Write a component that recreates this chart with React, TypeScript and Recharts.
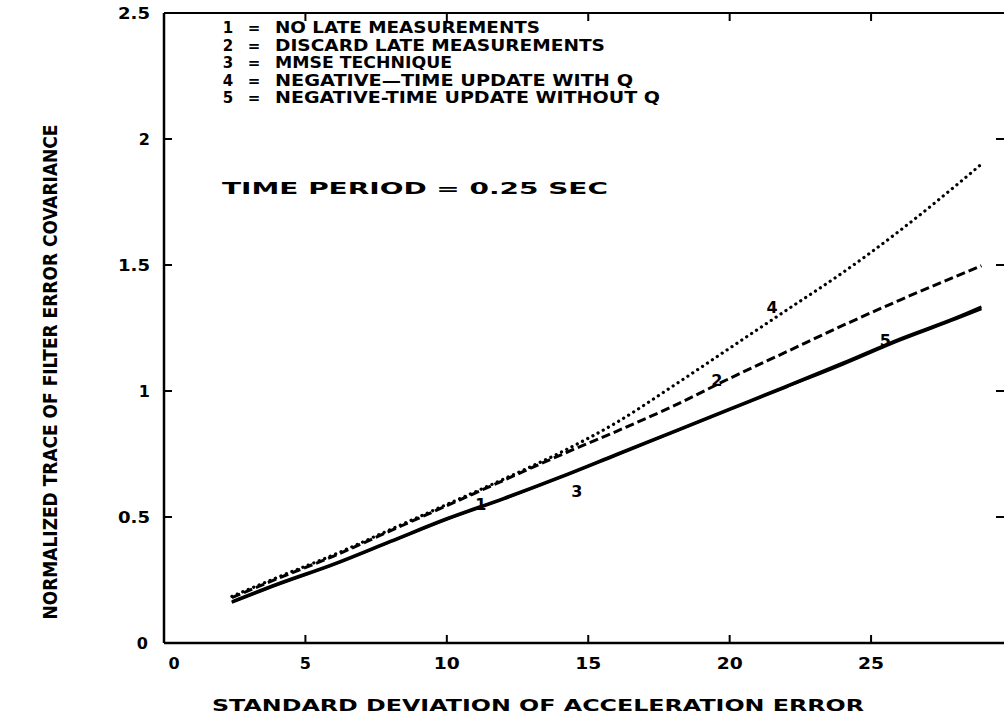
import React from 'react';
import { LineChart, Line, XAxis, YAxis, ReferenceDot } from 'recharts';

// ---- data ----
const sigmaAccel = [2.4, 4, 6, 8, 10, 12, 14, 16, 18, 20, 22, 24, 26, 28, 28.9];
const noLateMeasurements = [0.16, 0.23, 0.31, 0.4, 0.49, 0.57, 0.655, 0.745, 0.835, 0.925, 1.015, 1.105, 1.2, 1.285, 1.325];
const discardLate = [0.18, 0.255, 0.345, 0.445, 0.545, 0.645, 0.745, 0.84, 0.94, 1.05, 1.155, 1.26, 1.36, 1.455, 1.497];
const mmseTechnique = [0.162, 0.232, 0.312, 0.402, 0.492, 0.572, 0.657, 0.747, 0.837, 0.927, 1.017, 1.108, 1.203, 1.288, 1.328];
const negTimeWithQ = [0.185, 0.26, 0.35, 0.45, 0.55, 0.65, 0.755, 0.875, 1.02, 1.17, 1.32, 1.47, 1.635, 1.815, 1.9];
const negTimeWithoutQ = [0.165, 0.235, 0.315, 0.405, 0.495, 0.575, 0.66, 0.75, 0.84, 0.93, 1.02, 1.112, 1.207, 1.292, 1.335];

const xTicks = [0, 5, 10, 15, 20, 25];
const yTicks = [0, 0.5, 1, 1.5, 2, 2.5];
const xDomain: [number, number] = [0, 29.7];
const yDomain: [number, number] = [0, 2.5];

const legendNumbers = ['1', '2', '3', '4', '5'];
const legendLabels = [
  'NO LATE MEASUREMENTS',
  'DISCARD LATE MEASUREMENTS',
  'MMSE TECHNIQUE',
  'NEGATIVE\u2014TIME UPDATE WITH Q',
  'NEGATIVE-TIME UPDATE WITHOUT Q',
];
const legendLengths = [265, 330, 177, 358, 385];
const periodNote = 'TIME PERIOD = 0.25 SEC';
const xTitle = 'STANDARD DEVIATION OF ACCELERATION ERROR';
const yTitle = 'NORMALIZED TRACE OF FILTER ERROR COVARIANCE';

const curveTags = [
  { id: '1', x: 11.2, y: 0.55 },
  { id: '3', x: 14.6, y: 0.6 },
  { id: '2', x: 19.55, y: 1.04 },
  { id: '4', x: 21.5, y: 1.33 },
  { id: '5', x: 25.5, y: 1.2 },
];

const data = sigmaAccel.map((x, i) => ({
  x,
  s1: noLateMeasurements[i],
  s2: discardLate[i],
  s3: mmseTechnique[i],
  s4: negTimeWithQ[i],
  s5: negTimeWithoutQ[i],
}));

const FONT = '"DejaVu Sans", Verdana, sans-serif';

const LeftTick = (props: any) => {
  const { x, y, payload } = props;
  const isZero = payload.value === 0;
  return (
    <g>
      {!isZero && payload.value !== 2.5 && (
        <line x1={x + 14} x2={x + 22} y1={y} y2={y} stroke="#000" strokeWidth={2} />
      )}
      <text x={isZero ? x - 2 : x} y={y} textAnchor="end" dominantBaseline="central"
        fontFamily={FONT} fontWeight="bold" fontSize={16} fill="#000"
        textLength={String(payload.value).length > 1 ? 32 : undefined} lengthAdjust="spacingAndGlyphs">
        {payload.value}
      </text>
    </g>
  );
};

const BottomTick = (props: any) => {
  const { x, y, payload } = props;
  const isZero = payload.value === 0;
  return (
    <g>
      {!isZero && (
        <line x1={x} x2={x} y1={y - 14} y2={y - 22} stroke="#000" strokeWidth={2} />
      )}
      <text x={isZero ? x + 10 : x} y={y + 12} textAnchor="middle"
        fontFamily={FONT} fontWeight="bold" fontSize={16} fill="#000"
        textLength={String(payload.value).length > 1 ? 26 : undefined} lengthAdjust="spacingAndGlyphs">
        {payload.value}
      </text>
    </g>
  );
};

const TopTick = (props: any) => {
  const { x, y, payload } = props;
  if (payload.value === 0) return <g />;
  return <line x1={x} x2={x} y1={y} y2={y + 8} stroke="#000" strokeWidth={2} />;
};

const RightTick = (props: any) => {
  const { x, y, payload } = props;
  if (payload.value === 0 || payload.value === 2.5) return <g />;
  return <line x1={x} x2={x - 8} y1={y} y2={y} stroke="#000" strokeWidth={2} />;
};

export default function App() {
  return (
    <div style={{ position: 'absolute', left: 0, top: 0, width: 1007, height: 723, background: '#fff' }}>
      <LineChart width={1007} height={723} data={data}
        margin={{ top: 12, right: 2, bottom: 79, left: 163 }}>
        <XAxis xAxisId="b" dataKey="x" type="number" domain={xDomain} ticks={xTicks} allowDataOverflow
          height={1} tickSize={0} tickMargin={14} tick={<BottomTick />} tickLine={false}
          axisLine={{ stroke: '#000', strokeWidth: 2.5 }} />
        <XAxis xAxisId="t" orientation="top" dataKey="x" type="number" domain={xDomain}
          ticks={xTicks} allowDataOverflow height={1} tickSize={0} tickMargin={0}
          tick={<TopTick />} tickLine={false} axisLine={{ stroke: '#000', strokeWidth: 2 }} />
        <YAxis yAxisId="l" type="number" domain={yDomain} ticks={yTicks} width={1} tickSize={0}
          tickMargin={14} tick={<LeftTick />} tickLine={false} allowDataOverflow
          axisLine={{ stroke: '#000', strokeWidth: 2.5 }} />
        <YAxis yAxisId="r" orientation="right" type="number" domain={yDomain} ticks={yTicks}
          width={1} tickSize={0} tickMargin={0} tick={<RightTick />} tickLine={false}
          axisLine={false} allowDataOverflow />
        <Line xAxisId="b" yAxisId="l" dataKey="s1" type="monotone" stroke="#000" strokeWidth={2.5} dot={false} isAnimationActive={false} />
        <Line xAxisId="b" yAxisId="l" dataKey="s3" type="monotone" stroke="#000" strokeWidth={2.5} dot={false} isAnimationActive={false} />
        <Line xAxisId="b" yAxisId="l" dataKey="s5" type="monotone" stroke="#000" strokeWidth={2.5} dot={false} isAnimationActive={false} />
        <Line xAxisId="b" yAxisId="l" dataKey="s2" type="monotone" stroke="#000" strokeWidth={3} strokeDasharray="9 4" dot={false} isAnimationActive={false} />
        <Line xAxisId="b" yAxisId="l" dataKey="s4" type="monotone" stroke="#000" strokeWidth={3.2} strokeDasharray="0.1 5.8" strokeLinecap="round" dot={false} isAnimationActive={false} />
        {curveTags.map((t) => (
          <ReferenceDot key={t.id} xAxisId="b" yAxisId="l" x={t.x} y={t.y} r={0} ifOverflow="visible"
            shape={(p: any) => (
              <text x={p.cx} y={p.cy} textAnchor="middle" dominantBaseline="central"
                fontFamily={FONT} fontWeight="bold" fontSize={16} fill="#000">{t.id}</text>
            )} />
        ))}
      </LineChart>
      <svg width={1007} height={723} style={{ position: 'absolute', left: 0, top: 0, pointerEvents: 'none' }}>
        {legendLabels.map((label, i) => (
          <g key={i} fontFamily={FONT} fontWeight="bold" fontSize={15} fill="#000">
            <text x={228} y={33 + i * 17.5} textAnchor="middle">{legendNumbers[i]}</text>
            <text x={254} y={33 + i * 17.5} textAnchor="middle">=</text>
            <text x={275} y={33 + i * 17.5} textLength={legendLengths[i]} lengthAdjust="spacingAndGlyphs">{label}</text>
          </g>
        ))}
        <text x={222} y={194} fontFamily={FONT} fontWeight="bold" fontSize={15}
          textLength={386} lengthAdjust="spacingAndGlyphs">{periodNote}</text>
        <text x={538} y={711} textAnchor="middle" fontFamily={FONT} fontWeight="bold" fontSize={16}
          textLength={652} lengthAdjust="spacingAndGlyphs">{xTitle}</text>
        <text x={0} y={0} transform="translate(57,372) rotate(-90)" textAnchor="middle"
          fontFamily={'"Liberation Sans Narrow", "DejaVu Sans Condensed", "DejaVu Sans", sans-serif'}
          fontWeight="bold" fontSize={19} textLength={495} lengthAdjust="spacingAndGlyphs">{yTitle}</text>
      </svg>
    </div>
  );
}
